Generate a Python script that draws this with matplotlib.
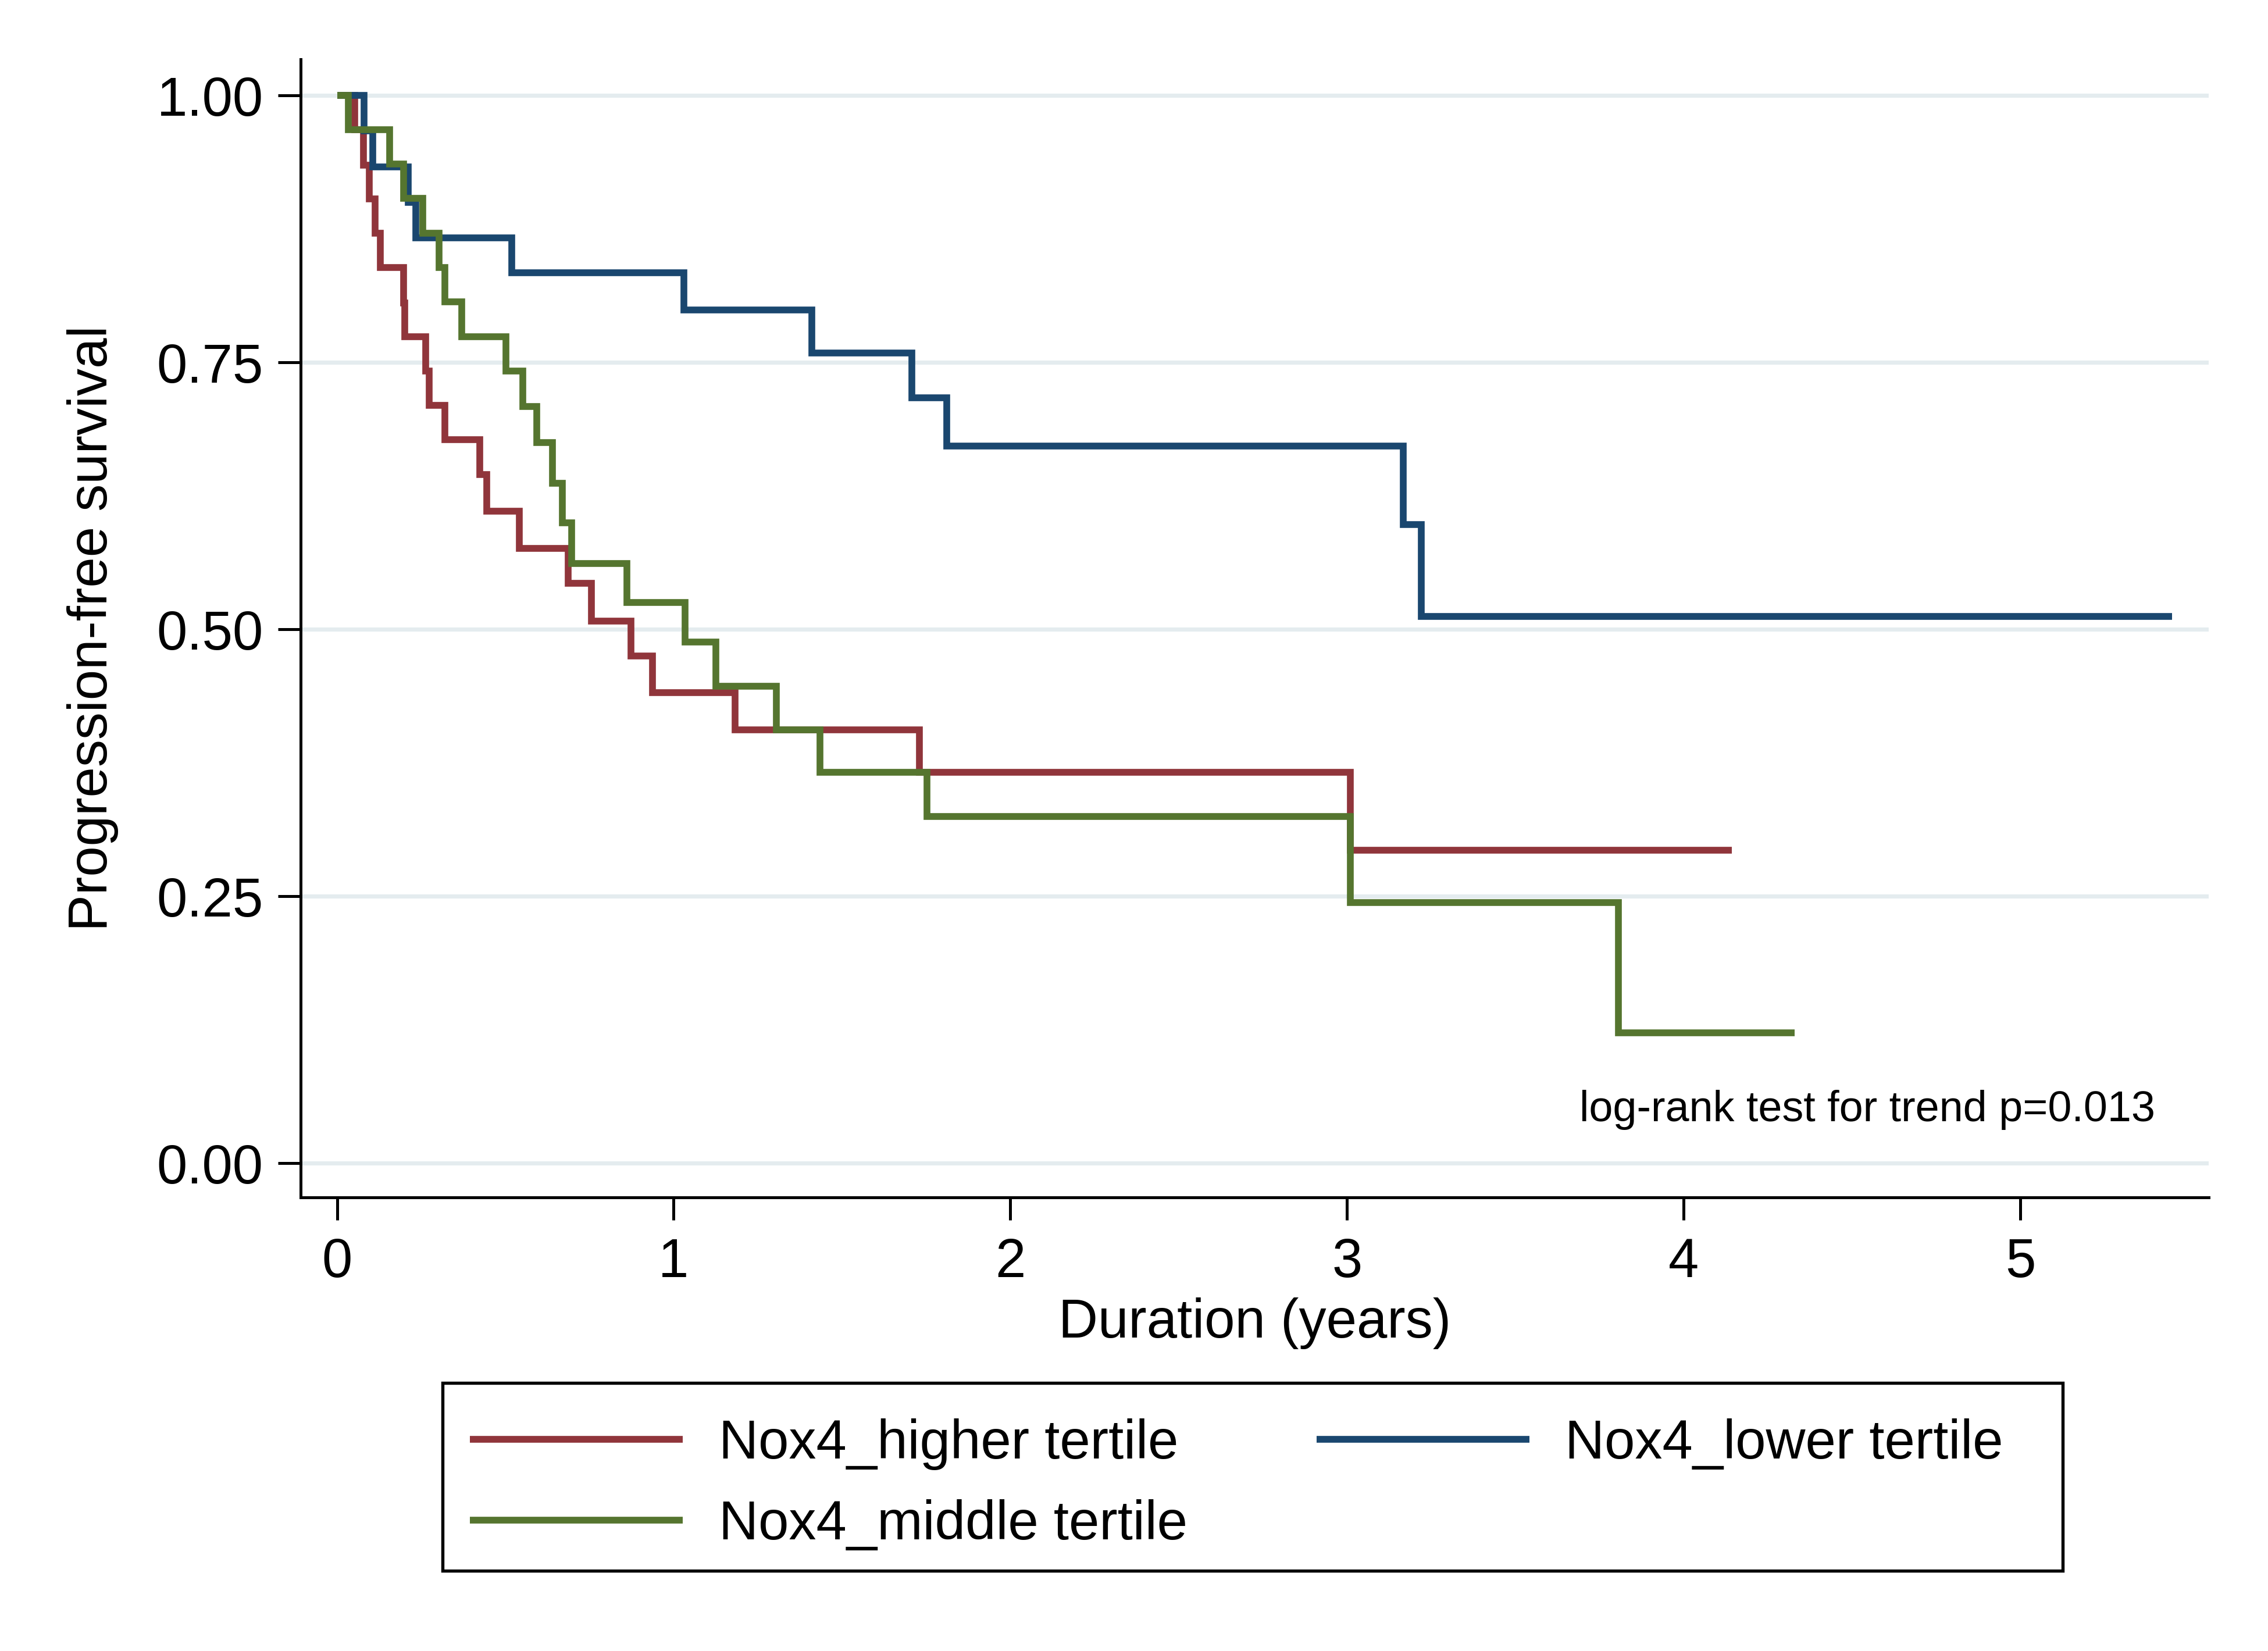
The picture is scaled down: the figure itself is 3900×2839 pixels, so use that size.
import matplotlib
matplotlib.use("Agg")
import matplotlib.pyplot as plt
from matplotlib.patches import Rectangle

plt.rcParams['font.family'] = ['Liberation Sans', 'DejaVu Sans']

# ---- data ----
groups = ["Nox4_higher tertile", "Nox4_lower tertile", "Nox4_middle tertile"]
colors = ["#90353B", "#1A476F", "#55752F"]

higher_t = [0.052, 0.078, 0.096, 0.113, 0.128, 0.197, 0.201, 0.263, 0.274, 0.320,
            0.424, 0.445, 0.542, 0.686, 0.755, 0.873, 0.937, 1.183, 1.729, 3.009]
higher_s = [0.968, 0.935, 0.903, 0.871, 0.839, 0.806, 0.774, 0.742, 0.710, 0.678,
            0.645, 0.611, 0.576, 0.543, 0.508, 0.475, 0.441, 0.406, 0.366, 0.293]
higher_end = 4.142

lower_t = [0.080, 0.107, 0.211, 0.234, 0.519, 1.031, 1.411, 1.708, 1.811, 3.166, 3.220]
lower_s = [0.967, 0.933, 0.900, 0.867, 0.834, 0.799, 0.759, 0.717, 0.672, 0.598, 0.512]
lower_end = 5.451

middle_t = [0.033, 0.156, 0.197, 0.254, 0.303, 0.320, 0.370, 0.502, 0.552, 0.594,
            0.640, 0.670, 0.697, 0.861, 1.034, 1.126, 1.305, 1.434, 1.752, 3.009, 3.806]
middle_s = [0.968, 0.936, 0.904, 0.871, 0.839, 0.807, 0.774, 0.742, 0.709, 0.675,
            0.637, 0.600, 0.562, 0.525, 0.488, 0.447, 0.406, 0.366, 0.325, 0.244, 0.122]
middle_end = 4.33

x_ticks = [0, 1, 2, 3, 4, 5]
y_ticks = [0.0, 0.25, 0.50, 0.75, 1.00]
y_ticklabels = ["0.00", "0.25", "0.50", "0.75", "1.00"]
annotation = "log-rank test for trend p=0.013"

# ---- figure ----
W, H = 3900, 2839
dpi = 300
fig = plt.figure(figsize=(W / dpi, H / dpi), dpi=dpi, facecolor="white")
ax = fig.add_axes([517 / W, 1 - 2059 / H, (3798 - 517) / W, (2059 - 102) / H])

FS = 22.6
LW = 2.8

series = [
    (higher_t, higher_s, higher_end),
    (lower_t, lower_s, lower_end),
    (middle_t, middle_s, middle_end),
]
lines = []
for (t, s, end), lab, col in zip(series, groups, colors):
    xs = [0.0] + list(t) + [end]
    ys = [1.0] + list(s) + [s[-1]]
    ln, = ax.step(xs, ys, where="post", color=col, lw=LW, label=lab,
                  solid_joinstyle="miter", solid_capstyle="butt", zorder=3)
    lines.append(ln)

ax.set_xlim(-0.108, 5.559)
ax.set_ylim(-0.032, 1.034)

ax.set_xticks(x_ticks)
ax.set_xticklabels([str(v) for v in x_ticks])
ax.set_yticks(y_ticks)
ax.set_yticklabels(y_ticklabels)

ax.yaxis.grid(True, color="#E4ECEF", lw=1.7, zorder=0)
ax.xaxis.grid(False)
ax.set_axisbelow(True)

for side in ["top", "right"]:
    ax.spines[side].set_visible(False)
for side in ["left", "bottom"]:
    ax.spines[side].set_linewidth(1.2)
    ax.spines[side].set_color("black")

ax.tick_params(axis="both", direction="out", length=9.4, width=1.2,
               labelsize=FS, colors="black")
ax.tick_params(axis="y", pad=6)
ax.tick_params(axis="x", pad=7)

ax.set_xlabel("Duration (years)", fontsize=FS)
ax.set_ylabel("Progression-free survival", fontsize=FS)
ax.xaxis.set_label_coords(0.5, -0.088)
ax.yaxis.set_label_coords(-0.0954, 0.5)

ax.text(5.40, 0.05, annotation, fontsize=17.7, ha="right", va="center")

# ---- legend ----
handles = [lines[0], lines[2], lines[1]]
labels = [groups[0], groups[2], groups[1]]
fig.legend(handles, labels, ncol=2, loc="upper left",
           bbox_to_anchor=(808 / W, 1 - 2439 / H), bbox_transform=fig.transFigure,
           frameon=False, fontsize=FS, handlelength=3.89, handletextpad=0.65,
           columnspacing=2.36, labelspacing=0.53, borderpad=0, borderaxespad=0)
fig.patches.append(Rectangle((761 / W, 1 - 2701 / H), (3547 - 761) / W, (2701 - 2378) / H,
                             transform=fig.transFigure, fill=False,
                             edgecolor="black", lw=1.3))

fig.savefig("out.png", dpi=dpi, facecolor="white")
